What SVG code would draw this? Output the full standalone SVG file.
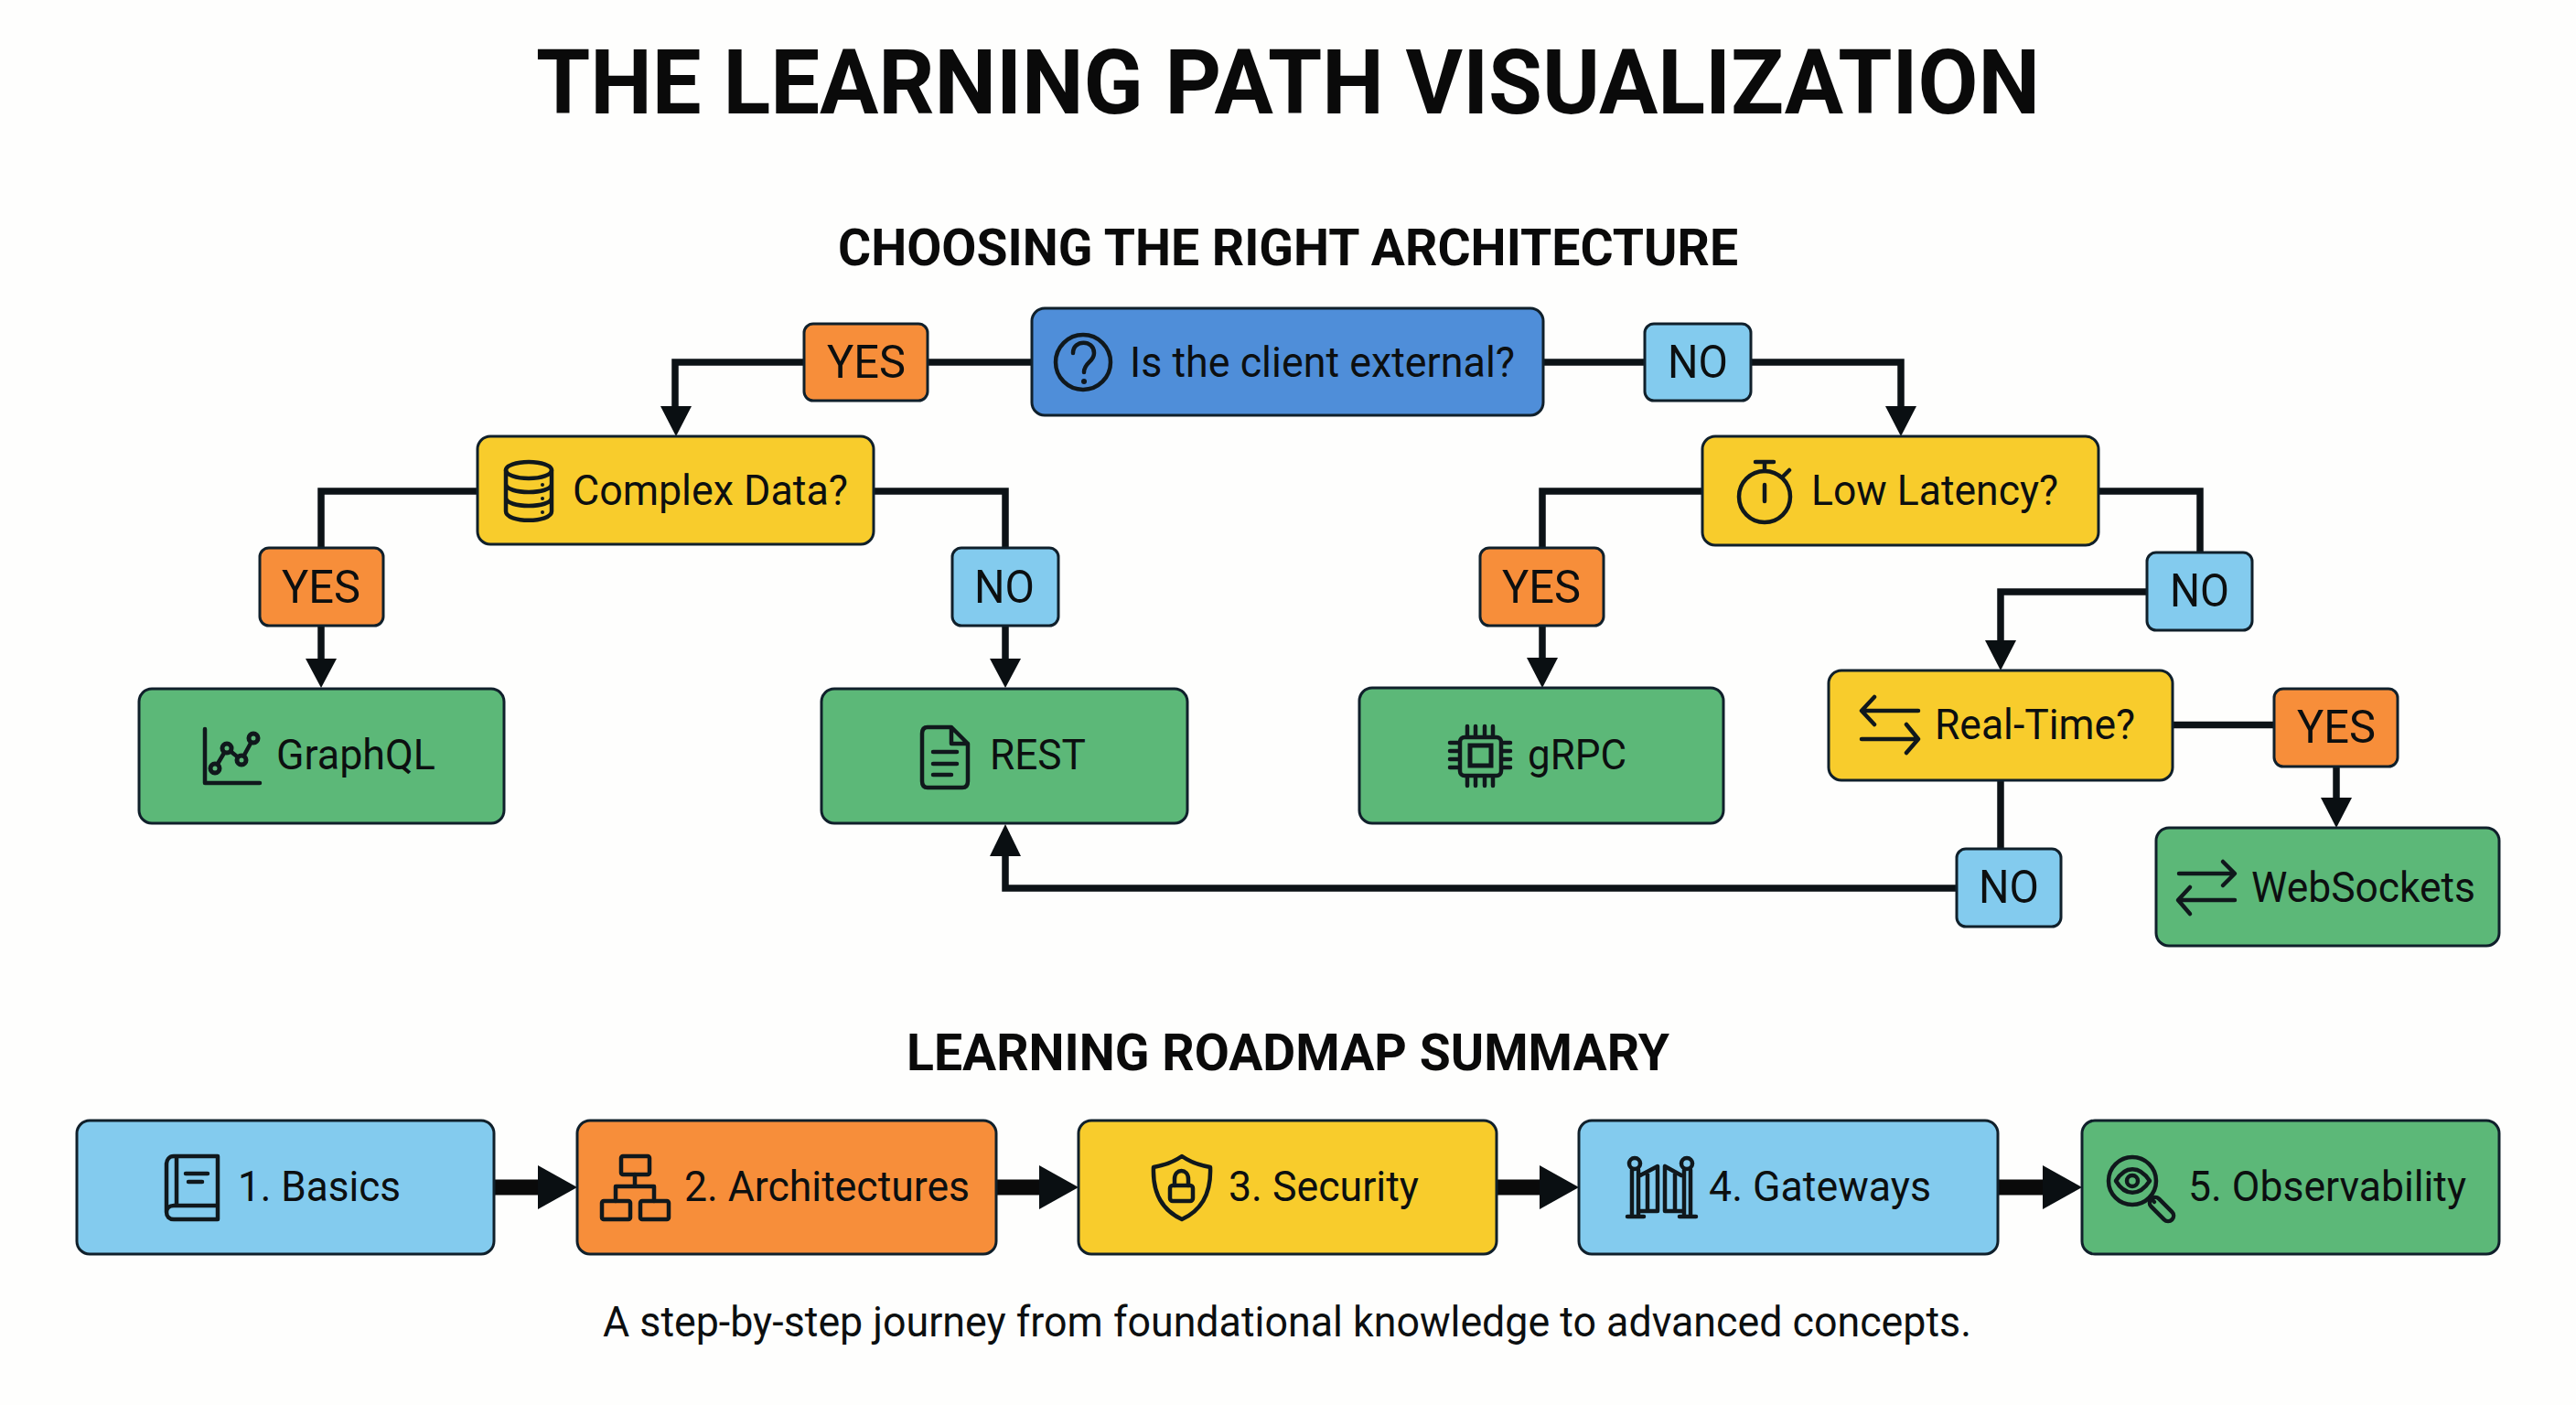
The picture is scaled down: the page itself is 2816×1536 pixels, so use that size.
<svg xmlns="http://www.w3.org/2000/svg" width="2816" height="1536" viewBox="0 0 2816 1536">
<style>
text{font-family:Roboto,"Liberation Sans",sans-serif;fill:#0c0f10}
.h1{font-size:98px;font-weight:700;fill:#0a0a0a}
.h2{font-size:56px;font-weight:700;fill:#0a0a0a}
.t{font-size:47px}
.l{font-size:50px}
.c{font-size:47px}
.box{stroke:#10202b;stroke-width:3}
.blue{fill:#4f8ed9}.yel{fill:#f8cc2c}.org{fill:#f78e3a}.lb{fill:#83cbee}.grn{fill:#5cb878}
.ln{fill:none;stroke:#0c1216;stroke-width:7.5}
.fat{fill:none;stroke:#0a0a0a;stroke-width:17}
.ah{fill:#0a0f12}
.ic{fill:none;stroke:#10181c;stroke-width:4.500;stroke-linecap:round;stroke-linejoin:round}
</style>
<rect width="2816" height="1536" fill="#fefefd"/>
<text class="h1" x="586" y="124" textLength="1644" lengthAdjust="spacingAndGlyphs">THE LEARNING PATH VISUALIZATION</text>
<text class="h2" x="916" y="290" textLength="984" lengthAdjust="spacingAndGlyphs">CHOOSING THE RIGHT ARCHITECTURE</text>
<text class="h2" x="991" y="1170" textLength="834" lengthAdjust="spacingAndGlyphs">LEARNING ROADMAP SUMMARY</text>
<text class="c" x="659" y="1461" textLength="1496" lengthAdjust="spacingAndGlyphs">A step-by-step journey from foundational knowledge to advanced concepts.</text>

<g id="connectors">
<path class="ln" d="M1128 396H738V446"/><path class="ah" d="M722 444H756L739 477Z"/>
<path class="ln" d="M1687 396H2078V446"/><path class="ah" d="M2061 444H2095L2078 477Z"/>
<path class="ln" d="M522 537H351V722"/><path class="ah" d="M334 720H368L351 752Z"/>
<path class="ln" d="M955 537H1099V722"/><path class="ah" d="M1082 720H1116L1099 752Z"/>
<path class="ln" d="M1861 537H1686V722"/><path class="ah" d="M1669 719H1703L1686 752Z"/>
<path class="ln" d="M2294 537H2405V610"/>
<path class="ln" d="M2347 647H2187V702"/><path class="ah" d="M2170 700H2204L2187 733Z"/>
<path class="ln" d="M2375 792.500H2486"/>
<path class="ln" d="M2554 838V874"/><path class="ah" d="M2537 872H2571L2554 905Z"/>
<path class="ln" d="M2187 853V971H1099V934"/><path class="ah" d="M1082 936H1116L1099 901Z"/>
<path class="fat" d="M540 1298H590"/><path class="ah" d="M588 1274L631 1298L588 1322Z"/>
<path class="fat" d="M1089 1298H1138"/><path class="ah" d="M1136 1274L1179 1298L1136 1322Z"/>
<path class="fat" d="M1636 1298H1685"/><path class="ah" d="M1683 1274L1726 1298L1683 1322Z"/>
<path class="fat" d="M2184 1298H2235"/><path class="ah" d="M2233 1274L2276 1298L2233 1322Z"/>
</g>

<g id="n-client"><rect class="box blue" x="1128" y="337" width="559" height="117" rx="14"/>
<circle class="ic" cx="1184" cy="396" r="30"/><path class="ic" d="M1173 386C1173 371 1196 371 1196 386C1196 396 1185 396 1185 407"/><circle cx="1185" cy="417" r="3" fill="#10181c"/>
<text class="t" x="1235" y="412" textLength="421" lengthAdjust="spacingAndGlyphs">Is the client external?</text></g>
<g id="l-yes1"><rect class="box org" x="879" y="354" width="135" height="84" rx="10"/><text class="l" x="904" y="413" textLength="86" lengthAdjust="spacingAndGlyphs">YES</text></g>
<g id="l-no1"><rect class="box lb" x="1798" y="354" width="116" height="84" rx="10"/><text class="l" x="1823" y="413" textLength="66" lengthAdjust="spacingAndGlyphs">NO</text></g>

<g id="n-complex"><rect class="box yel" x="522" y="477" width="433" height="118" rx="14"/>
<ellipse class="ic" cx="578" cy="514" rx="25" ry="9"/><path class="ic" d="M553 514V559C553 572 603 572 603 559V514M553 529C553 541 603 541 603 529M553 544C553 556 603 556 603 544"/>
<circle cx="593" cy="530" r="2" fill="#10181c"/><circle cx="593" cy="545" r="2" fill="#10181c"/><circle cx="593" cy="560" r="2" fill="#10181c"/>
<text class="t" x="626" y="552" textLength="301" lengthAdjust="spacingAndGlyphs">Complex Data?</text></g>
<g id="l-yes2"><rect class="box org" x="284" y="599" width="135" height="85" rx="10"/><text class="l" x="308" y="659" textLength="86" lengthAdjust="spacingAndGlyphs">YES</text></g>
<g id="l-no2"><rect class="box lb" x="1041" y="599" width="116" height="85" rx="10"/><text class="l" x="1065" y="659" textLength="66" lengthAdjust="spacingAndGlyphs">NO</text></g>
<g id="n-graphql"><rect class="box grn" x="152" y="753" width="399" height="147" rx="14"/>
<path class="ic" d="M224 797V856H284M235 840L248 818L264 831L277 807" stroke-width="5"/><g fill="#5cb878" stroke="#10181c" stroke-width="5"><circle cx="235" cy="840" r="5"/><circle cx="248" cy="818" r="5"/><circle cx="264" cy="831" r="5"/><circle cx="277" cy="807" r="5"/></g>
<text class="t" x="302" y="841" textLength="174" lengthAdjust="spacingAndGlyphs">GraphQL</text></g>
<g id="n-rest"><rect class="box grn" x="898" y="753" width="400" height="147" rx="14"/>
<path class="ic" d="M1008 802C1008 797 1010 795 1014 795H1040L1058 813V854C1058 859 1056 861 1052 861H1014C1010 861 1008 859 1008 854ZM1040 795V813H1058M1020 822H1046M1020 835H1046M1020 847H1040"/>
<text class="t" x="1082" y="841" textLength="105" lengthAdjust="spacingAndGlyphs">REST</text></g>

<g id="n-latency"><rect class="box yel" x="1861" y="477" width="433" height="119" rx="14"/>
<circle class="ic" cx="1929" cy="543" r="28"/><path class="ic" d="M1929 515V505M1919 505H1939M1929 530V548M1950 520L1956 514"/>
<text class="t" x="1980" y="552" textLength="270" lengthAdjust="spacingAndGlyphs">Low Latency?</text></g>
<g id="l-yes3"><rect class="box org" x="1618" y="599" width="135" height="85" rx="10"/><text class="l" x="1642" y="659" textLength="86" lengthAdjust="spacingAndGlyphs">YES</text></g>
<g id="n-grpc"><rect class="box grn" x="1486" y="752" width="398" height="148" rx="14"/>
<rect class="ic" x="1596" y="806" width="45" height="42" rx="5"/><rect x="1607" y="815" width="23" height="22" fill="none" stroke="#10181c" stroke-width="5"/>
<path class="ic" d="M1604 794V805M1613 794V805M1623 794V805M1632 794V805M1604 849V859M1613 849V859M1623 849V859M1632 849V859M1585 812H1595M1585 821H1595M1585 830H1595M1585 839H1595M1642 812H1651M1642 821H1651M1642 830H1651M1642 839H1651"/>
<text class="t" x="1670" y="841" textLength="108" lengthAdjust="spacingAndGlyphs">gRPC</text></g>
<g id="l-no3"><rect class="box lb" x="2347" y="604" width="115" height="85" rx="10"/><text class="l" x="2372" y="663" textLength="65" lengthAdjust="spacingAndGlyphs">NO</text></g>
<g id="n-realtime"><rect class="box yel" x="1999" y="733" width="376" height="120" rx="14"/>
<path class="ic" d="M2097 777H2036M2049 762L2035 777L2049 792M2035 808H2096M2084 792L2097 808L2084 823"/>
<text class="t" x="2115" y="808" textLength="219" lengthAdjust="spacingAndGlyphs">Real-Time?</text></g>
<g id="l-yes4"><rect class="box org" x="2486" y="753" width="135" height="85" rx="10"/><text class="l" x="2511" y="812" textLength="86" lengthAdjust="spacingAndGlyphs">YES</text></g>
<g id="n-websockets"><rect class="box grn" x="2357" y="905" width="375" height="129" rx="14"/>
<path class="ic" d="M2382 955H2442M2430 942L2443 955L2430 968M2443 984H2383M2394 970L2381 984L2394 999"/>
<text class="t" x="2461" y="986" textLength="245" lengthAdjust="spacingAndGlyphs">WebSockets</text></g>
<g id="l-no4"><rect class="box lb" x="2139" y="928" width="114" height="85" rx="10"/><text class="l" x="2163" y="987" textLength="66" lengthAdjust="spacingAndGlyphs">NO</text></g>

<g id="n-basics"><rect class="box lb" x="84" y="1225" width="456" height="146" rx="14"/>
<path class="ic" d="M238 1264H190C185 1264 182 1268 182 1273V1325C182 1330 185 1333 190 1333H238V1318H190C185 1318 182 1321 182 1325M193 1264V1318M238 1264V1318M203 1283H227M206 1292H221"/>
<text class="c" x="260" y="1313" textLength="178" lengthAdjust="spacingAndGlyphs">1. Basics</text></g>
<g id="n-arch"><rect class="box org" x="631" y="1225" width="458" height="146" rx="14"/>
<rect class="ic" x="679" y="1264" width="31" height="20" rx="2"/><rect class="ic" x="658" y="1313" width="31" height="20" rx="2"/><rect class="ic" x="700" y="1313" width="31" height="20" rx="2"/>
<path class="ic" d="M694 1284V1297M673 1313V1297H715V1313"/>
<text class="c" x="748" y="1313" textLength="312" lengthAdjust="spacingAndGlyphs">2. Architectures</text></g>
<g id="n-sec"><rect class="box yel" x="1179" y="1225" width="457" height="146" rx="14"/>
<path class="ic" d="M1292 1264C1282 1271 1272 1274 1261 1276C1260 1300 1268 1322 1292 1333C1316 1322 1324 1300 1323 1276C1312 1274 1302 1271 1292 1264Z"/><rect class="ic" x="1279" y="1296" width="25" height="17" rx="3"/><path class="ic" d="M1284 1296V1289C1284 1277 1299 1277 1299 1289V1296"/>
<text class="c" x="1343" y="1313" textLength="208" lengthAdjust="spacingAndGlyphs">3. Security</text></g>
<g id="n-gate"><rect class="box lb" x="1726" y="1225" width="458" height="146" rx="14"/>
<path class="ic" d="M1784 1279V1330M1791 1279V1330M1841 1279V1330M1848 1279V1330M1779 1330H1797M1836 1330H1854M1793 1285L1812 1275V1324H1792M1820 1275L1838 1285M1820 1275V1324H1839M1801 1281V1324M1831 1281V1324"/><circle class="ic" cx="1787" cy="1272" r="6"/><circle class="ic" cx="1844" cy="1272" r="6"/>
<text class="c" x="1868" y="1313" textLength="243" lengthAdjust="spacingAndGlyphs">4. Gateways</text></g>
<g id="n-obs"><rect class="box grn" x="2276" y="1225" width="456" height="146" rx="14"/>
<circle class="ic" cx="2331" cy="1291" r="26"/><path class="ic" d="M2351 1310L2355 1314"/><rect class="ic" x="2347" y="1316" width="32" height="12" rx="6" transform="rotate(45 2363 1322)"/><path class="ic" d="M2313 1291C2323 1274 2339 1274 2350 1291C2339 1308 2323 1308 2313 1291Z"/><circle class="ic" cx="2331" cy="1291" r="6"/>
<text class="c" x="2392" y="1313" textLength="304" lengthAdjust="spacingAndGlyphs">5. Observability</text></g>
</svg>
